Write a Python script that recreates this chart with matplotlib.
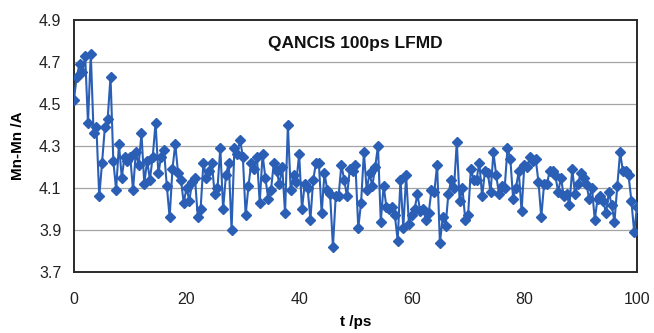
import numpy as np
import matplotlib
matplotlib.use("Agg")
import matplotlib.pyplot as plt

plt.rcParams['font.family'] = ['Liberation Sans', 'DejaVu Sans']

# sampling step of the trajectory (ps)
dt = 0.5

# Mn-Mn distance (A), one value every 0.5 ps
dist = [
    4.52, 4.63, 4.69, 4.65, 4.73, 4.41, 4.74, 4.36, 4.39, 4.06,
    4.22, 4.39, 4.43, 4.63, 4.23, 4.09, 4.31, 4.15, 4.25, 4.23,
    4.25, 4.09, 4.27, 4.21, 4.36, 4.12, 4.23, 4.14, 4.25, 4.41,
    4.17, 4.25, 4.28, 4.11, 3.96, 4.19, 4.31, 4.17, 4.14, 4.03,
    4.10, 4.04, 4.13, 4.15, 3.96, 4.00, 4.22, 4.15, 4.18, 4.22,
    4.07, 4.10, 4.29, 4.00, 4.16, 4.22, 3.90, 4.29, 4.26, 4.33,
    4.25, 3.97, 4.11, 4.22, 4.19, 4.25, 4.03, 4.26, 4.15, 4.05,
    4.09, 4.22, 4.18, 4.12, 4.20, 3.98, 4.40,
    4.09, 4.16, 4.13, 4.26, 4.00, 4.12, 4.10, 3.95, 4.14, 4.22,
    4.22, 3.98, 4.17, 4.09, 4.07, 3.82,
    4.06, 4.06, 4.21, 4.14, 4.06, 4.19, 4.18, 4.21, 3.91,
    4.03, 4.27, 4.09, 4.17, 4.11, 4.20, 4.30,
    3.94, 4.11, 4.01, 4.00, 4.01, 3.97, 3.85,
    4.14, 3.91, 4.16, 3.93, 3.97, 4.00, 4.07, 3.99, 4.00, 3.95,
    3.98, 4.09, 4.08, 4.21,
    3.84, 3.96, 3.92, 4.07, 4.14, 4.10, 4.32,
    4.04, 4.10, 3.95, 3.97, 4.19, 4.14, 4.14, 4.22, 4.06, 4.18,
    4.17, 4.08, 4.27,
    4.16, 4.07, 4.11, 4.10, 4.29,
    4.24, 4.05, 4.10, 4.18, 3.99, 4.21, 4.20, 4.25, 4.23, 4.24,
    4.13, 3.96,
    4.12, 4.12, 4.18, 4.18, 4.16, 4.08, 4.15, 4.06, 4.07, 4.02,
    4.19, 4.07, 4.12, 4.17, 4.15, 4.12, 4.05, 4.10, 3.95,
    4.05, 4.06, 4.04, 3.98, 4.08, 4.02, 3.94, 4.11, 4.27,
    4.18, 4.18, 4.16, 4.04, 3.89, 4.01,
]
t = np.arange(len(dist)) * dt

y_ticks = [3.7, 3.9, 4.1, 4.3, 4.5, 4.7, 4.9]
x_ticks = [0, 20, 40, 60, 80, 100]

fig = plt.figure(figsize=(6.54, 3.33), dpi=100)
ax = fig.add_axes([0.113, 0.183, 0.861, 0.757])

for yv in y_ticks[1:-1]:
    ax.axhline(yv, color='#a5a5a5', lw=0.9, zorder=1)

ax.plot(t, dist, color='#2a5fb5', lw=1.5, marker='D', markersize=4.8,
        markerfacecolor='#2a5fb5', markeredgecolor='#2a5fb5', zorder=3)

ax.set_xlim(0, 100)
ax.set_ylim(3.7, 4.9)
ax.set_xticks(x_ticks)
ax.set_yticks(y_ticks)
ax.set_yticklabels([f"{v:.1f}" for v in y_ticks])
ax.tick_params(axis='both', length=0, labelsize=11.5, colors='#222222')
ax.tick_params(axis='x', pad=14)
ax.tick_params(axis='y', pad=9)

for s in ax.spines.values():
    s.set_color('#2a2a2a')
    s.set_linewidth(1.4)

ax.text(0.5, 0.905, 'QANCIS 100ps LFMD', transform=ax.transAxes,
        ha='center', va='center', fontsize=12.5, fontweight='bold', color='#111111')
ax.set_ylabel('Mn-Mn /A', fontsize=11, fontweight='bold', labelpad=10)
ax.set_xlabel('t /ps', fontsize=11, fontweight='bold', labelpad=6)

fig.savefig('out.png', dpi=100)
